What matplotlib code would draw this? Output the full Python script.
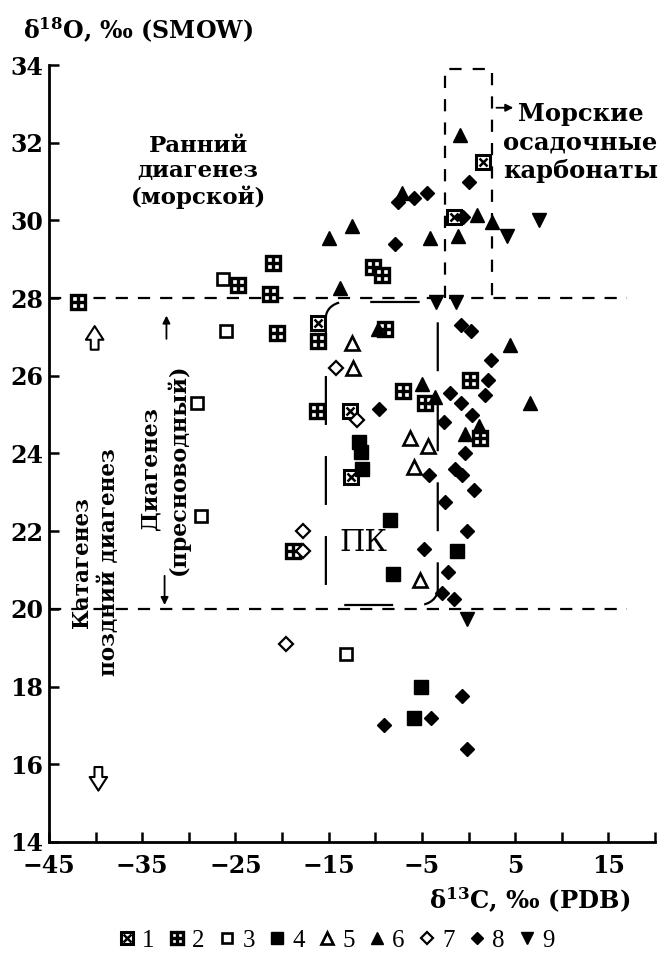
import numpy as np
import matplotlib
matplotlib.use('Agg')
import matplotlib.pyplot as plt
from matplotlib.lines import Line2D
from matplotlib.patches import FancyArrowPatch

plt.rcParams['font.family'] = ['DejaVu Serif']
plt.rcParams['font.weight'] = 'bold'
plt.rcParams['mathtext.fontset'] = 'dejavuserif'

# ---- data (d13C, d18O) per sample type ----
x1 = [1.5, -1.6, -12.7, -12.6, -16.1]
y1 = [31.5, 30.1, 25.1, 23.4, 27.35]

x2 = [-41.9, -24.7, -21.0, -21.3, -10.2, -9.3, -20.5, -16.1, -16.2, -7.0, -4.7, 0.2, -9.0, 1.25, -18.8]
y2 = [27.9, 28.35, 28.9, 28.1, 28.8, 28.6, 27.1, 26.9, 25.1, 25.6, 25.3, 25.9, 27.2, 24.4, 21.5]

x3 = [-26.3, -26.0, -29.1, -28.7, -13.1]
y3 = [28.5, 27.15, 25.3, 22.4, 18.85]

x4 = [-11.8, -11.5, -11.4, -8.4, -8.1, -1.2, -5.1, -5.8]
y4 = [24.3, 24.05, 23.6, 22.3, 20.9, 21.5, 18.0, 17.2]

x5 = [-12.5, -12.4, -6.3, -4.3, -5.9, -5.2]
y5 = [26.85, 26.2, 24.4, 24.2, 23.65, 20.75]

x6 = [-0.9, -15.0, -12.5, -7.1, -4.1, -1.1, 0.9, 2.5, -13.8, -5.0, 4.5, 6.6, -0.4, -9.7, -3.6, 1.1]
y6 = [32.2, 29.55, 29.85, 30.7, 29.55, 29.6, 30.15, 29.95, 28.25, 25.8, 26.8, 25.3, 24.5, 27.2, 25.45, 24.7]

x7 = [-17.8, -17.8, -14.2, -12.0, -19.6]
y7 = [22.0, 21.5, 26.2, 24.85, 19.1]

x8 = [0.0, -7.9, -7.55, -5.9, -4.45, -0.6,
      -0.8, 0.3, 2.4, 2.1, 1.8, -2.0, -0.8, 0.35, -9.55, -2.6, -0.35, -1.45, -0.7,
      -4.2, 0.6, -2.5, -0.2, -4.8, -2.15, -2.85, -1.55,
      -9.05, -4.05, -0.65, -0.2]
y8 = [31.0, 29.4, 30.47, 30.58, 30.7, 30.1,
      27.3, 27.15, 26.4, 25.9, 25.5, 25.55, 25.3, 25.0, 25.15, 24.8, 24.0, 23.6, 23.45,
      23.45, 23.05, 22.75, 22.0, 21.55, 20.95, 20.4, 20.25,
      17.0, 17.2, 17.75, 16.4]

x9 = [-3.5, -1.3, 7.6, 4.1, -0.2]
y9 = [27.9, 27.9, 30.0, 29.6, 19.75]

legend_labels = ['1', '2', '3', '4', '5', '6', '7', '8', '9']
xticks = [-45, -40, -35, -30, -25, -20, -15, -10, -5, 0, 5, 10, 15, 20]
xticklabels = ['−45', '', '−35', '', '−25', '', '−15', '', '−5', '', '5', '', '15', '']
yticks = [14, 16, 18, 20, 22, 24, 26, 28, 30, 32, 34]

# ---- marker styles ----
st1 = [dict(marker='s', ms=9.5, mfc='white', mec='k', mew=2.2),
       dict(marker='x', ms=6, mec='k', mew=1.8)]
st2 = [dict(marker='s', ms=9.5, mfc='white', mec='k', mew=2.4),
       dict(marker='+', ms=9.5, mec='k', mew=2.4)]
st3 = [dict(marker='s', ms=9, mfc='white', mec='k', mew=1.9)]
st4 = [dict(marker='s', ms=10, mfc='k', mec='k', mew=1)]
st5 = [dict(marker='^', ms=9.5, mfc='white', mec='k', mew=1.9)]
st6 = [dict(marker='^', ms=10, mfc='k', mec='k', mew=1)]
st7 = [dict(marker='D', ms=7, mfc='white', mec='k', mew=1.6)]
st8 = [dict(marker='D', ms=7.5, mfc='k', mec='k', mew=1)]
st9 = [dict(marker='v', ms=10, mfc='k', mec='k', mew=1)]

series = [(x1, y1, st1), (x2, y2, st2), (x3, y3, st3), (x4, y4, st4), (x5, y5, st5),
          (x6, y6, st6), (x7, y7, st7), (x8, y8, st8), (x9, y9, st9)]

fig = plt.figure(figsize=(6.6, 9.66), dpi=100)
ax = fig.add_axes([0.0742, 0.1284, 0.9182, 0.8043])
ax.set_xlim(-45, 20)
ax.set_ylim(14, 34)

# dashed boundaries
ax.plot([-45, 17], [28, 28], color='k', lw=1.6, dashes=(5.5, 4.5))
ax.plot([-45, 17], [20, 20], color='k', lw=1.6, dashes=(5.5, 4.5))
ax.plot([-2.5, -2.5, 2.5, 2.5], [28, 33.9, 33.9, 28], color='k', lw=1.6, dashes=(5.5, 5))

# rounded bracket around ПК
bx0, bx1, by0, by1, rx, ry = -15.3, -3.3, 20.1, 27.9, 2.0, 0.4
t = np.linspace(0, np.pi / 2, 12)
px = np.concatenate([[bx1 - rx, bx0 + rx], bx0 + rx - rx * np.sin(t), [bx0, bx0],
                     bx0 + rx - rx * np.cos(t), [bx1 - rx], bx1 - rx + rx * np.sin(t),
                     [bx1, bx1], bx1 - rx + rx * np.cos(t)])
py = np.concatenate([[by1, by1], by1 - ry + ry * np.cos(t), [by1 - ry, by0 + ry],
                     by0 + ry - ry * np.sin(t), [by0], by0 + ry - ry * np.cos(t),
                     [by0 + ry, by1 - ry], by1 - ry + ry * np.sin(t)])
ax.plot(px, py, color='k', lw=1.6, dashes=(22, 14))

for xs, ys, sts in series:
    for s in sts:
        ax.plot(xs, ys, ls='none', **s)

# texts
ax.text(-29.0, 31.25, 'Ранний\nдиагенез\n(морской)', ha='center', va='center',
        fontsize=16.5, linespacing=1.17)
ax.text(12.0, 32.0, 'Морские\nосадочные\nкарбонаты', ha='center', va='center',
        fontsize=17.5, linespacing=1.25, clip_on=False)
ax.text(-40.0, 21.2, 'Катагенез\nпоздний диагенез', rotation=90, ha='center', va='center',
        fontsize=15.5, linespacing=1.25)
ax.text(-32.55, 23.6, 'Диагенез\n(пресноводный)', rotation=90, ha='center', va='center',
        fontsize=16, linespacing=1.25)
ax.text(-11.25, 21.7, 'ПК', ha='center', va='center', fontsize=21, fontweight='normal')

# arrows
ap = dict(arrowstyle='-|>', lw=1.3, color='k', mutation_scale=11, shrinkA=0, shrinkB=0)
ax.annotate('', xy=(-32.4, 27.55), xytext=(-32.4, 26.95), arrowprops=ap)
ax.annotate('', xy=(-32.6, 20.1), xytext=(-32.6, 20.85), arrowprops=ap)
ax.annotate('', xy=(4.8, 32.9), xytext=(3.0, 32.9), arrowprops=ap)
for (xa, ya0, ya1) in [(-40.1, 26.6, 27.35), (-39.7, 16.0, 15.25)]:
    ax.add_patch(FancyArrowPatch((xa, ya0), (xa, ya1),
                                 arrowstyle='simple,head_length=0.7,head_width=0.9,tail_width=0.4',
                                 mutation_scale=14, fc='white', ec='k', lw=1.5))

# axes styling
for sp in ['top', 'right']:
    ax.spines[sp].set_visible(False)
ax.spines['left'].set_linewidth(2)
ax.spines['bottom'].set_linewidth(2)
ax.set_xticks(xticks)
ax.set_xticklabels(xticklabels)
ax.set_yticks(yticks)
ax.tick_params(direction='in', length=7, width=1.8, labelsize=17)
ax.tick_params(axis='y', pad=4)
ax.tick_params(axis='x', pad=8.5)

fig.text(0.035, 0.969, r'δ$^{\mathbf{18}}$O, ‰ (SMOW)', ha='left', va='center', fontsize=17)
fig.text(0.803, 0.0683, r'δ$^{\mathbf{13}}$C, ‰ (PDB)', ha='center', va='center', fontsize=17.5)

handles = []
for xs, ys, sts in series:
    handles.append(tuple(Line2D([], [], ls='none', **s) for s in sts))
fig.legend(handles, legend_labels, loc='center', bbox_to_anchor=(0.51, 0.026), ncol=9,
           frameon=False, handlelength=0.65, handletextpad=0.3, columnspacing=0.55,
           markerscale=0.85,
           prop={'family': 'Liberation Serif', 'weight': 'normal', 'size': 18})

fig.savefig('out.png', dpi=100)
